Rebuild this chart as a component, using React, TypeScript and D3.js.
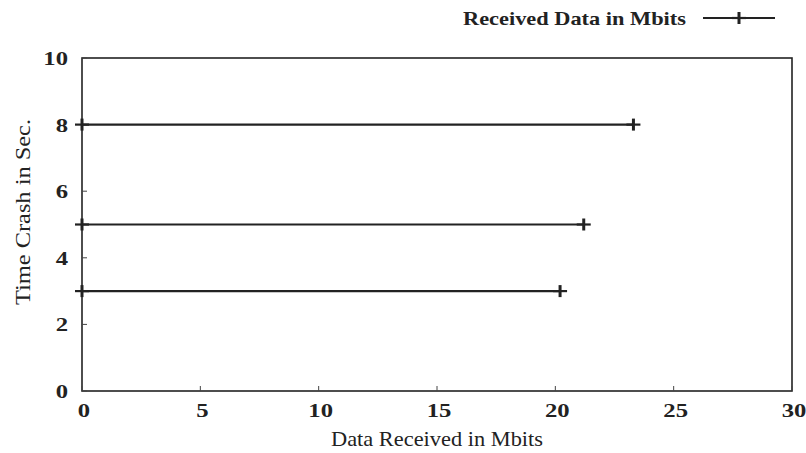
import { useEffect, useRef } from 'react'
import * as d3 from 'd3'

// time of crash (sec) vs data received (Mbits)
const crashTimes = [3, 5, 8]
const receivedMbits = [20.2, 21.2, 23.3]
const xTicks = [0, 5, 10, 15, 20, 25, 30]
const yTicks = [0, 2, 4, 6, 8, 10]
const seriesLabel = 'Received Data in Mbits'

const width = 806
const height = 453
const margin = { top: 58, right: 14, bottom: 62, left: 82 }
const font = '"Liberation Serif", "DejaVu Serif", serif'

export default function App() {
  const svgRef = useRef<SVGSVGElement>(null)

  useEffect(() => {
    if (!svgRef.current) return
    const svg = d3.select(svgRef.current)
    svg.selectAll('*').remove()

    const innerWidth = width - margin.left - margin.right
    const innerHeight = height - margin.top - margin.bottom

    const x = d3.scaleLinear().domain([0, 30]).range([0, innerWidth])
    const y = d3.scaleLinear().domain([0, 10]).range([innerHeight, 0])

    const g = svg.append('g')
      .attr('transform', `translate(${margin.left},${margin.top})`)

    // frame
    g.append('rect')
      .attr('width', innerWidth)
      .attr('height', innerHeight)
      .attr('fill', 'none')
      .attr('stroke', '#222')
      .attr('stroke-width', 1.6)

    // inward ticks
    g.selectAll('.xt')
      .data(xTicks)
      .enter().append('line')
      .attr('x1', d => x(d)).attr('x2', d => x(d))
      .attr('y1', innerHeight).attr('y2', innerHeight - 5)
      .attr('stroke', '#444').attr('stroke-width', 1)

    g.selectAll('.yt')
      .data(yTicks)
      .enter().append('line')
      .attr('x1', 0).attr('x2', 5)
      .attr('y1', d => y(d)).attr('y2', d => y(d))
      .attr('stroke', '#444').attr('stroke-width', 1)

    // tick labels (the scan is stretched sideways, so widen the glyphs a bit)
    g.selectAll('.xl')
      .data(xTicks)
      .enter().append('text')
      .attr('x', d => x(d) + 2)
      .attr('y', innerHeight + 26)
      .attr('text-anchor', 'middle')
      .attr('font-family', font)
      .attr('font-size', 19)
      .attr('font-weight', 'bold')
      .attr('fill', '#222')
      .attr('transform', d => `translate(${x(d) + 2},0) scale(1.3,1) translate(${-(x(d) + 2)},0)`)
      .text(d => d)

    g.selectAll('.yl')
      .data(yTicks)
      .enter().append('text')
      .attr('x', -14)
      .attr('y', d => y(d) + 7)
      .attr('text-anchor', 'end')
      .attr('font-family', font)
      .attr('font-size', 19)
      .attr('font-weight', 'bold')
      .attr('fill', '#222')
      .attr('transform', 'translate(-14,0) scale(1.3,1) translate(14,0)')
      .text(d => d)

    // axis titles
    g.append('text')
      .attr('x', innerWidth / 2 - 106)
      .attr('y', innerHeight + 55)
      .attr('font-family', font)
      .attr('font-size', 22)
      .attr('fill', '#222')
      .attr('textLength', 212)
      .attr('lengthAdjust', 'spacingAndGlyphs')
      .text('Data Received in Mbits')

    g.append('text')
      .attr('transform', `translate(${-margin.left + 30},${innerHeight - 86}) rotate(-90)`)
      .attr('font-family', font)
      .attr('font-size', 22)
      .attr('fill', '#222')
      .attr('textLength', 186)
      .attr('lengthAdjust', 'spacingAndGlyphs')
      .text('Time Crash in Sec.')

    const data = crashTimes.map((t, i) => ({ t, v: receivedMbits[i] }))

    // horizontal bars drawn as lines with + marks at both ends
    g.selectAll('.bar')
      .data(data)
      .enter().append('line')
      .attr('x1', x(0)).attr('x2', d => x(d.v))
      .attr('y1', d => y(d.t)).attr('y2', d => y(d.t))
      .attr('stroke', '#222').attr('stroke-width', 2.2)

    const plus = (sel: d3.Selection<SVGGElement, unknown, null, undefined>, cx: number, cy: number) => {
      sel.append('line').attr('x1', cx - 7).attr('x2', cx + 7).attr('y1', cy).attr('y2', cy)
        .attr('stroke', '#222').attr('stroke-width', 2.2)
      sel.append('line').attr('x1', cx).attr('x2', cx).attr('y1', cy - 6).attr('y2', cy + 6)
        .attr('stroke', '#222').attr('stroke-width', 3)
    }
    const marks = g.append('g')
    data.forEach(d => {
      plus(marks, x(d.v), y(d.t))
      plus(marks, x(0), y(d.t))
    })

    // legend
    const lg = svg.append('g')
    lg.append('text')
      .attr('x', 463)
      .attr('y', 25)
      .attr('font-family', font)
      .attr('font-size', 19)
      .attr('font-weight', 'bold')
      .attr('fill', '#222')
      .attr('textLength', 223)
      .attr('lengthAdjust', 'spacingAndGlyphs')
      .text(seriesLabel)
    lg.append('line')
      .attr('x1', 703).attr('x2', 775).attr('y1', 18).attr('y2', 18)
      .attr('stroke', '#222').attr('stroke-width', 2.2)
    plus(lg, 739, 18)
  }, [])

  return (
    <svg ref={svgRef} width={width} height={height}
      style={{ position: 'absolute', left: 0, top: 0, background: '#fff' }} />
  )
}
